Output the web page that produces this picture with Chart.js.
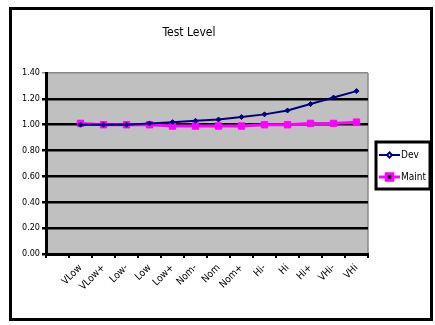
<!DOCTYPE html>
<html><head><meta charset="utf-8">
<script src="https://cdn.jsdelivr.net/npm/chart.js@4"></script>
<style>html,body{margin:0;padding:0;background:#fff}canvas{display:block}</style>
</head><body>
<canvas id="c" width="435" height="325"></canvas>
<script>
const categories = ['', 'VLow', 'VLow+', 'Low-', 'Low', 'Low+', 'Nom-', 'Nom', 'Nom+', 'Hi-', 'Hi', 'Hi+', 'VHi-', 'VHi'];
const devValues = [null, 1.00, 1.00, 1.00, 1.01, 1.02, 1.03, 1.04, 1.06, 1.08, 1.11, 1.16, 1.21, 1.26];
const maintValues = [null, 1.01, 1.00, 1.00, 1.00, 0.99, 0.99, 0.99, 0.99, 1.00, 1.00, 1.01, 1.01, 1.02];
const yTicks = [0, 0.2, 0.4, 0.6, 0.8, 1.0, 1.2, 1.4];
const FONT = '"Liberation Sans Narrow", "DejaVu Sans Condensed", "Liberation Sans", sans-serif';

const decor = {
  id: 'decor',
  beforeDraw(chart) {
    const ctx = chart.ctx, a = chart.chartArea;
    ctx.save();
    ctx.fillStyle = '#fff';
    ctx.fillRect(0, 0, chart.width, chart.height);
    ctx.fillStyle = '#c0c0c0';
    ctx.fillRect(a.left, a.top, a.right - a.left, a.bottom - a.top);
    ctx.strokeStyle = '#888';
    ctx.lineWidth = 1.5;
    ctx.beginPath();
    ctx.moveTo(a.right, a.top); ctx.lineTo(a.right, a.bottom);
    ctx.stroke();
    ctx.restore();
  },
  afterDraw(chart) {
    const ctx = chart.ctx;
    ctx.save();
    ctx.strokeStyle = '#000';
    ctx.lineWidth = 3;
    ctx.strokeRect(10.5, 8.5, 421, 311);
    const lx = 376, ly = 142, lw = 54, lh = 47;
    ctx.fillStyle = '#fff';
    ctx.fillRect(lx, ly, lw, lh);
    ctx.lineWidth = 3;
    ctx.strokeRect(lx, ly, lw, lh);
    chart.data.datasets.forEach((ds, i) => {
      const y = ly + 13 + i * 22;
      ctx.strokeStyle = ds.borderColor;
      ctx.lineWidth = ds.borderWidth;
      ctx.beginPath(); ctx.moveTo(lx + 3, y); ctx.lineTo(lx + 24, y); ctx.stroke();
      Chart.helpers.drawPoint(ctx, {pointStyle: ds.pointStyle, radius: ds.pointRadius, borderWidth: 1}, lx + 13.5, y);
      ctx.fillStyle = '#000';
      ctx.font = '10px ' + FONT;
      ctx.textBaseline = 'middle';
      ctx.fillText(ds.label, lx + 25, y);
    });
    ctx.restore();
  }
};

new Chart(document.getElementById('c'), {
  type: 'line',
  data: {
    labels: categories,
    datasets: [
      {label: 'Dev', data: devValues, borderColor: '#000080', backgroundColor: '#000080', borderWidth: 2,
       pointStyle: 'rectRot', pointRadius: 2.5, pointBorderWidth: 1},
      {label: 'Maint', data: maintValues, borderColor: '#ff00ff', backgroundColor: '#ff00ff', borderWidth: 3,
       pointStyle: 'rect', pointRadius: 4.5, pointBorderWidth: 1}
    ]
  },
  options: {
    responsive: false,
    animation: false,
    layout: {padding: {left: 10, right: 67, top: 0, bottom: 0}},
    plugins: {
      legend: {display: false},
      tooltip: {enabled: false},
      title: {display: true, text: 'Test Level', color: '#000',
        font: {family: FONT, size: 12, weight: 'normal'}, padding: {top: 26, bottom: 32.6}}
    },
    scales: {
      x: {
        offset: true,
        grid: {offset: true, drawOnChartArea: false, drawTicks: true, tickLength: 4, color: '#000', lineWidth: 2},
        border: {display: true, color: '#000', width: 3},
        ticks: {minRotation: 45, maxRotation: 45, autoSkip: false, color: '#000', padding: 4,
          font: {family: FONT, size: 10}},
        afterFit(s) { s.height = 71; }
      },
      y: {
        min: 0, max: 1.4,
        afterBuildTicks(s) { s.ticks = yTicks.map(v => ({value: v})); },
        grid: {drawTicks: true, tickLength: 4,
          color: c => (c.tick && c.tick.value >= 1.39) ? '#888' : '#000',
          lineWidth: c => (c.tick && c.tick.value >= 1.39) ? 1.5 : 2.5},
        border: {display: true, color: '#000', width: 3},
        ticks: {color: '#000', padding: 2, font: {family: FONT, size: 9},
          callback: v => Number(v).toFixed(2)},
        afterFit(s) { s.width = 36; }
      }
    }
  },
  plugins: [decor]
});
</script>
</body></html>
